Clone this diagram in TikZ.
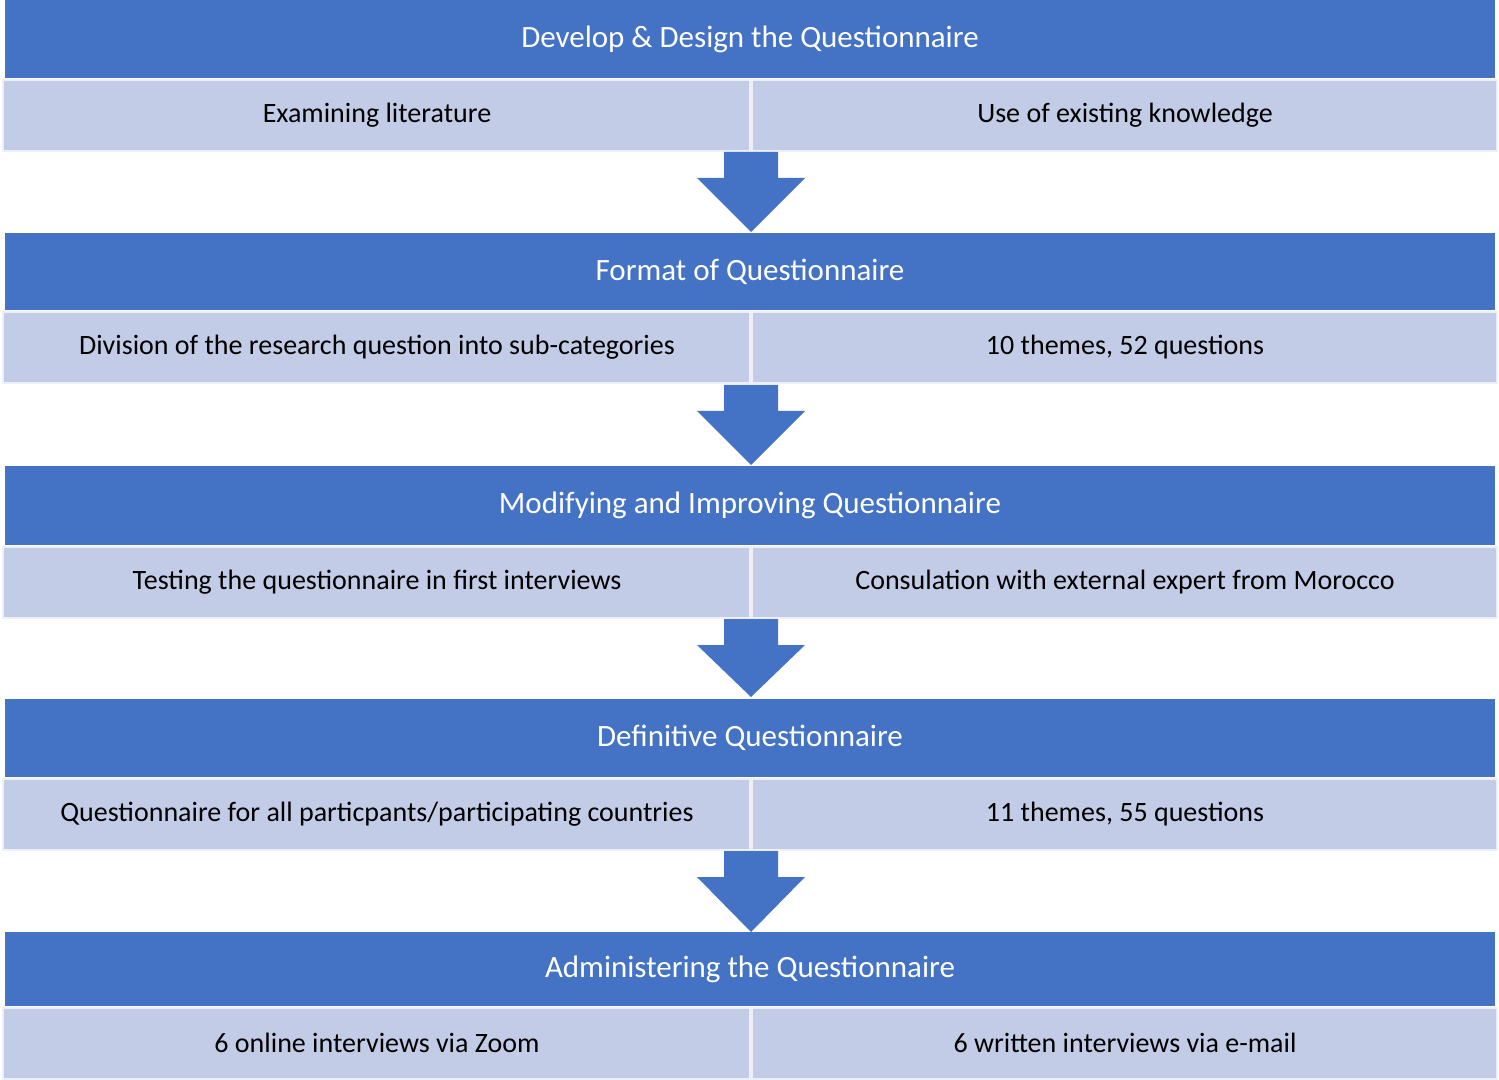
\documentclass[tikz,border=0pt]{standalone}
\usepackage{fontspec}
\setmainfont{Carlito}
\definecolor{hdr}{HTML}{4472C4}
\definecolor{sub}{HTML}{C3CCE6}
\begin{document}
\begin{tikzpicture}[x=0.5pt,y=-0.5pt,
  hdrbox/.style={fill=hdr,draw=none,text=white,font=\fontsize{15.5}{18}\selectfont},
  subbox/.style={fill=sub,draw=white!85!sub,line width=1pt,font=\fontsize{14}{17}\selectfont},
  arr/.style={fill=hdr,draw=none}]
\useasboundingbox (0,0) rectangle (1499,1080);
\newcommand{\blk}[6]{%
  \fill[hdr] (5,#1) rectangle (1495,#2);
  \node[text=white,font=\fontsize{15.5}{18}\selectfont] (h#6) at (750,{(#1+#2)/2}) {#3};
  \filldraw[fill=sub,draw=white!70!sub,line width=1pt] (3,#2+2) rectangle (750,#2+73);
  \filldraw[fill=sub,draw=white!70!sub,line width=1pt] (752,#2+2) rectangle (1497,#2+73);
  \node[font=\fontsize{14}{17}\selectfont] (l#6) at (377,#2+37) {#4};
  \node[font=\fontsize{14}{17}\selectfont] (r#6) at (1125,#2+37) {#5};
}
\newcommand{\arrw}[2]{%
  \fill[hdr] (724,#1) -- (778,#1) -- (778,#1+26) -- (805,#1+26) -- (751,#2) -- (697,#1+26) -- (724,#1+26) -- cycle;}
\blk{0}{78}{Develop \& Design the Questionnaire}{Examining literature}{Use of existing knowledge}{a}
\arrw{152}{232}
\blk{233}{310}{Format of Questionnaire}{Division of the research question into sub-categories}{10 themes, 52 questions}{b}
\arrw{385}{465}
\blk{466}{545}{Modifying and Improving Questionnaire}{Testing the questionnaire in first interviews}{Consulation with external expert from Morocco}{c}
\arrw{619}{697}
\blk{699}{777}{Definitive Questionnaire}{Questionnaire for all particpants/participating countries}{11 themes, 55 questions}{d}
\arrw{851}{932}
\blk{932}{1006}{Administering the Questionnaire}{6 online interviews via Zoom}{6 written interviews via e-mail}{e}
\end{tikzpicture}
\end{document}
